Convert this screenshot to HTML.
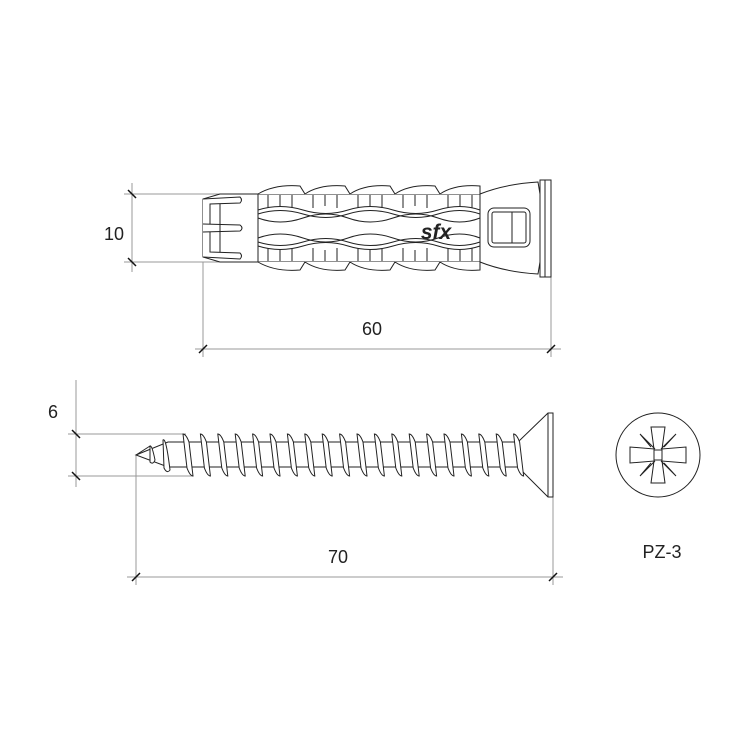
<!DOCTYPE html>
<html><head><meta charset="utf-8"><style>
html,body{margin:0;padding:0;background:#fff;}
svg{display:block;}
text{font-family:"Liberation Sans",Arial,sans-serif;fill:#222;}
</style></head><body>
<svg width="750" height="750" viewBox="0 0 750 750" xmlns="http://www.w3.org/2000/svg">
<rect width="750" height="750" fill="#fff"/>
<g stroke="#999" stroke-width="1" fill="none">
  <line x1="132" y1="183" x2="132" y2="272"/>
  <line x1="124" y1="194" x2="258" y2="194"/>
  <line x1="124" y1="262" x2="258" y2="262"/>
  <line x1="203" y1="262" x2="203" y2="357"/>
  <line x1="551" y1="277" x2="551" y2="357"/>
  <line x1="195" y1="349" x2="561" y2="349"/>
  <line x1="76" y1="380" x2="76" y2="487"/>
  <line x1="68" y1="434" x2="186" y2="434"/>
  <line x1="68" y1="476" x2="193" y2="476"/>
  <line x1="136" y1="455" x2="136" y2="585"/>
  <line x1="553" y1="497" x2="553" y2="585"/>
  <line x1="127" y1="577" x2="563" y2="577"/>
</g>
<g stroke="#111" stroke-width="1.5">
  <line x1="128" y1="190" x2="136" y2="198"/>
  <line x1="128" y1="258" x2="136" y2="266"/>
  <line x1="199" y1="353" x2="207" y2="345"/>
  <line x1="547" y1="353" x2="555" y2="345"/>
  <line x1="72" y1="430" x2="80" y2="438"/>
  <line x1="72" y1="472" x2="80" y2="480"/>
  <line x1="132" y1="581" x2="140" y2="573"/>
  <line x1="549" y1="581" x2="557" y2="573"/>
</g>
<text x="114" y="240" font-size="18" text-anchor="middle">10</text>
<text x="372" y="335" font-size="18" text-anchor="middle">60</text>
<text x="53" y="418" font-size="18" text-anchor="middle">6</text>
<text x="338" y="563" font-size="18" text-anchor="middle">70</text>
<text x="662" y="558" font-size="18" text-anchor="middle">PZ-3</text>

<g stroke="#222" stroke-width="1" fill="#fff">
  <path d="M258 194 L220 194 L203 199 L203 257 L220 262 L258 262"/>
  <path d="M203 199 L240 197 Q243 200 240 203 L210 204 L210 252 L240 253 Q243 256 240 259 L203 257"/>
  <path d="M203 224 L240 225 Q244 228 240 231 L203 232"/>
  <line x1="220" y1="204" x2="220" y2="252"/>
  <rect x="258" y="194" width="222" height="68"/>
  <path d="M258 194 Q275 184 300 186 L305 194 Q320 184 345 186 L350 194 Q365 184 390 186 L395 194 Q410 184 435 186 L440 194 Q455 184 480 186 L480 194"/>
  <path d="M258 262 Q275 272 300 270 L305 262 Q320 272 345 270 L350 262 Q365 272 390 270 L395 262 Q410 272 435 270 L440 262 Q455 272 480 270 L480 262"/>
  <path d="M258 210 Q280 203 303 210 T348 210 T393 210 T438 210 T480 210" fill="none"/>
  <path d="M258 214 Q280 207 303 214 T348 214 T393 214 T438 214 T480 214" fill="none"/>
  <path d="M258 218 Q280 226 303 218 T348 218 T393 218 T438 218 T480 218" fill="none"/>
  <path d="M258 238 Q280 230 303 238 T348 238 T393 238 T438 238 T480 238" fill="none"/>
  <path d="M258 242 Q280 249 303 242 T348 242 T393 242 T438 242 T480 242" fill="none"/>
  <path d="M258 246 Q280 253 303 246 T348 246 T393 246 T438 246 T480 246" fill="none"/>
  <g fill="none">
    <path d="M268 195V208M280 195V206M292 195V208M313 195V208M325 195V206M337 195V208M358 195V208M370 195V206M382 195V208M403 195V208M415 195V206M427 195V208M448 195V208M460 195V206M472 195V208"/>
    <path d="M268 248V261M280 250V261M292 248V261M313 248V261M325 250V261M337 248V261M358 248V261M370 250V261M382 248V261M403 248V261M415 250V261M427 248V261M448 248V261M460 250V261M472 248V261"/>
  </g>
  <path d="M480 194 Q505 184 538 182 L540 194 L540 262 L538 274 Q505 272 480 262 Z"/>
  <rect x="488" y="208" width="42" height="39" rx="6"/>
  <rect x="492" y="212" width="34" height="31" rx="2"/>
  <line x1="512" y1="212" x2="512" y2="243"/>
  <path d="M540 194 L540 180 L551 180 L551 277 L540 277 L540 262 Z"/>
  <line x1="545" y1="180" x2="545" y2="277"/>
</g>
<text x="436" y="239" font-size="21" font-style="italic" font-weight="bold" text-anchor="middle">sfx</text>

<g stroke="#222" stroke-width="1" fill="#fff">
  <path d="M136 455 L168 442 L518 442 L548 413 L553 413 L553 497 L548 497 L518 467 L168 467 Z"/>
  <line x1="518" y1="442" x2="518" y2="467"/>
  <line x1="548" y1="413" x2="548" y2="497"/>
  <line x1="136" y1="455" x2="150" y2="446"/>
  <path d="M150 446 Q152 445 155 460 Q153 465 150 462 Z"/>
  <path d="M163 440 Q166 437 170 470 Q167 474 164 468 Z"/>
  <g id="th">
    <path d="M183 434 Q186 434 189 442 L193 476 Q190 476 187 468 Z"/>
  </g>
  <use href="#th" x="17.4"/><use href="#th" x="34.8"/><use href="#th" x="52.2"/><use href="#th" x="69.6"/>
  <use href="#th" x="87"/><use href="#th" x="104.4"/><use href="#th" x="121.8"/><use href="#th" x="139.2"/>
  <use href="#th" x="156.6"/><use href="#th" x="174"/><use href="#th" x="191.4"/><use href="#th" x="208.8"/>
  <use href="#th" x="226.2"/><use href="#th" x="243.6"/><use href="#th" x="261"/><use href="#th" x="278.4"/>
  <use href="#th" x="295.8"/><use href="#th" x="313.2"/><use href="#th" x="330.6"/>
</g>

<g stroke="#222" stroke-width="1" fill="#fff">
  <circle cx="658" cy="455" r="42"/>
  <path d="M651 427 L665 427 L662 449 L686 447 L686 463 L662 461 L665 483 L651 483 L654 461 L630 463 L630 447 L654 449 Z"/>
  <rect x="654" y="450" width="8" height="10" fill="none"/>
  <path d="M655 449 L640 434 L651 447 M661 449 L676 434 L664 447 M655 461 L640 476 L651 463 M661 461 L676 476 L664 463" fill="none"/>
</g>
</svg>
</body></html>
